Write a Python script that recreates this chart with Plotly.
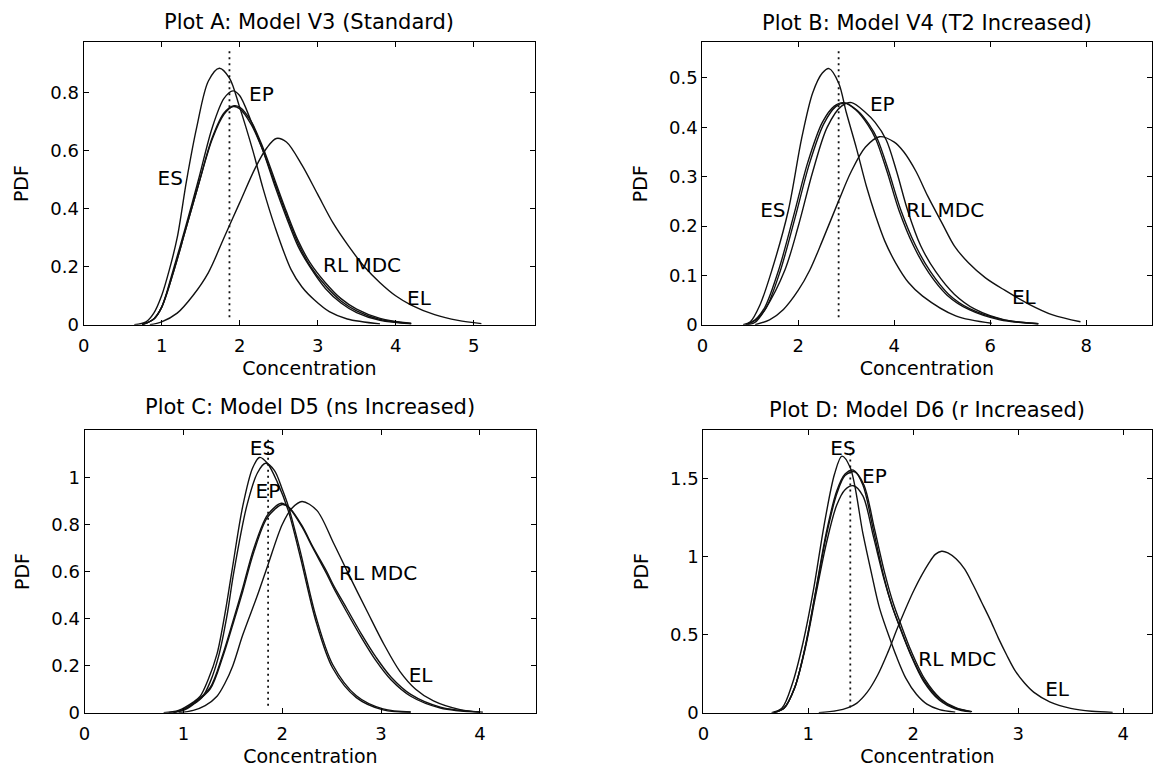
import plotly.graph_objects as go

W, H = 1153, 776

# ---------------- data ----------------
# Plot A: Model V3 (Standard)
A_ES_x = [0.65, 0.8, 0.9, 1.0, 1.1, 1.2, 1.32, 1.45, 1.6, 1.74, 1.87, 2.0, 2.17, 2.3, 2.45, 2.66, 2.8, 2.96, 3.15, 3.38, 3.8]
A_ES_y = [0.0, 0.01, 0.04, 0.1, 0.19, 0.3, 0.497, 0.68, 0.84, 0.884, 0.85, 0.75, 0.6, 0.47, 0.34, 0.19, 0.13, 0.085, 0.045, 0.02, 0.003]
A_EP_x = [0.75, 0.9, 1.0, 1.15, 1.3, 1.47, 1.65, 1.8, 1.915, 2.0, 2.15, 2.3, 2.45, 2.6, 2.75, 2.9, 3.1, 3.3, 3.5, 3.8, 4.2]
A_EP_y = [0.0, 0.02, 0.06, 0.19, 0.33, 0.497, 0.68, 0.78, 0.806, 0.79, 0.7, 0.6, 0.48, 0.37, 0.27, 0.2, 0.125, 0.075, 0.042, 0.015, 0.003]
A_RL_x = [0.75, 0.9, 1.0, 1.15, 1.3, 1.47, 1.65, 1.8, 1.915, 2.0, 2.15, 2.3, 2.45, 2.6, 2.75, 2.9, 3.1, 3.3, 3.5, 3.8, 4.2]
A_RL_y = [0.0, 0.02, 0.06, 0.18, 0.32, 0.48, 0.64, 0.725, 0.752, 0.745, 0.69, 0.6, 0.49, 0.38, 0.28, 0.205, 0.135, 0.082, 0.048, 0.018, 0.004]
A_MDC_x = [0.75, 0.9, 1.0, 1.15, 1.3, 1.47, 1.65, 1.8, 1.93, 2.0, 2.15, 2.3, 2.45, 2.6, 2.75, 2.9, 3.1, 3.3, 3.5, 3.8, 4.2]
A_MDC_y = [0.0, 0.02, 0.06, 0.18, 0.32, 0.48, 0.645, 0.73, 0.755, 0.75, 0.7, 0.61, 0.5, 0.39, 0.29, 0.215, 0.145, 0.09, 0.054, 0.022, 0.005]
A_EL_x = [0.85, 1.0, 1.2, 1.4, 1.6, 1.8, 2.0, 2.2, 2.35, 2.47, 2.6, 2.8, 3.0, 3.2, 3.4, 3.6, 3.8, 4.0, 4.2, 4.5, 4.8, 5.1]
A_EL_y = [0.0, 0.01, 0.04, 0.1, 0.18, 0.3, 0.42, 0.54, 0.61, 0.642, 0.63, 0.55, 0.45, 0.35, 0.27, 0.2, 0.145, 0.1, 0.068, 0.035, 0.015, 0.004]
A_REF_X = 1.87
A_REF_Y = [0.026, 0.95]
A_LABEL_X = [1.11, 2.28, 3.57, 4.30]
A_LABEL_Y = [0.50, 0.79, 0.20, 0.085]

# Plot B: Model V4 (T2 Increased)
B_ES_x = [0.85, 1.0, 1.2, 1.45, 1.79, 2.07, 2.3, 2.5, 2.64, 2.84, 3.0, 3.21, 3.42, 3.62, 3.8, 4.03, 4.3, 4.59, 5.28, 6.03]
B_ES_y = [0.0, 0.006, 0.04, 0.111, 0.231, 0.378, 0.47, 0.51, 0.519, 0.49, 0.43, 0.358, 0.28, 0.218, 0.17, 0.125, 0.085, 0.058, 0.018, 0.003]
B_EP_x = [0.95, 1.1, 1.3, 1.72, 2.0, 2.3, 2.6, 2.9, 3.11, 3.4, 3.6, 3.83, 4.05, 4.28, 4.55, 4.86, 5.25, 5.69, 6.3, 7.0]
B_EP_y = [0.0, 0.005, 0.03, 0.111, 0.2, 0.31, 0.4, 0.443, 0.45, 0.43, 0.41, 0.375, 0.31, 0.231, 0.16, 0.108, 0.062, 0.031, 0.01, 0.002]
B_RL_x = [0.9, 1.1, 1.3, 1.59, 1.9, 2.2, 2.5, 2.75, 2.94, 3.2, 3.45, 3.62, 3.85, 4.1, 4.4, 4.72, 5.1, 5.55, 6.2, 7.0]
B_RL_y = [0.0, 0.01, 0.035, 0.111, 0.22, 0.33, 0.41, 0.443, 0.45, 0.435, 0.405, 0.375, 0.31, 0.231, 0.16, 0.105, 0.06, 0.031, 0.01, 0.002]
B_MDC_x = [0.92, 1.12, 1.33, 1.62, 1.93, 2.23, 2.53, 2.78, 2.97, 3.23, 3.48, 3.65, 3.88, 4.13, 4.43, 4.75, 5.13, 5.58, 6.23, 7.0]
B_MDC_y = [0.0, 0.01, 0.034, 0.108, 0.216, 0.326, 0.407, 0.442, 0.449, 0.434, 0.405, 0.376, 0.312, 0.234, 0.163, 0.108, 0.062, 0.032, 0.011, 0.002]
B_EL_x = [1.1, 1.4, 1.69, 2.0, 2.24, 2.5, 2.84, 3.1, 3.4, 3.69, 4.0, 4.2, 4.45, 4.7, 5.0, 5.25, 5.55, 5.9, 6.3, 6.8, 7.3, 7.88]
B_EL_y = [0.0, 0.01, 0.031, 0.07, 0.111, 0.17, 0.251, 0.31, 0.36, 0.381, 0.37, 0.35, 0.311, 0.26, 0.205, 0.16, 0.125, 0.095, 0.07, 0.042, 0.02, 0.006]
B_REF_X = 2.84
B_REF_Y = [0.015, 0.558]
B_LABEL_X = [1.47, 3.75, 5.06, 6.70]
B_LABEL_Y = [0.228, 0.443, 0.228, 0.052]

# Plot C: Model D5 (ns Increased)
C_ES_x = [0.8, 0.95, 1.1, 1.17, 1.25, 1.34, 1.42, 1.49, 1.6, 1.7, 1.77, 1.85, 1.95, 2.06, 2.18, 2.34, 2.51, 2.75, 3.02, 3.3]
C_ES_y = [0.0, 0.01, 0.045, 0.07, 0.14, 0.25, 0.42, 0.6, 0.877, 1.04, 1.085, 1.06, 0.98, 0.86, 0.667, 0.39, 0.19, 0.064, 0.012, 0.002]
C_EP_x = [0.85, 1.0, 1.1, 1.19, 1.27, 1.36, 1.44, 1.51, 1.64, 1.75, 1.83, 1.92, 2.0, 2.06, 2.18, 2.34, 2.51, 2.75, 3.02, 3.3]
C_EP_y = [0.0, 0.01, 0.035, 0.065, 0.13, 0.246, 0.41, 0.597, 0.877, 1.02, 1.06, 1.03, 0.95, 0.88, 0.69, 0.41, 0.205, 0.072, 0.016, 0.003]
C_RL_x = [0.9, 1.0, 1.1, 1.27, 1.4, 1.5, 1.6, 1.71, 1.85, 1.99, 2.06, 2.2, 2.31, 2.45, 2.52, 2.65, 2.8, 2.95, 3.1, 3.3, 3.6, 4.0]
C_RL_y = [0.0, 0.014, 0.04, 0.106, 0.25, 0.387, 0.53, 0.695, 0.84, 0.89, 0.875, 0.79, 0.7, 0.59, 0.53, 0.43, 0.32, 0.22, 0.14, 0.07, 0.02, 0.002]
C_MDC_x = [0.9, 1.0, 1.1, 1.27, 1.4, 1.5, 1.6, 1.71, 1.85, 2.0, 2.07, 2.2, 2.31, 2.45, 2.52, 2.65, 2.8, 2.95, 3.1, 3.3, 3.6, 4.0]
C_MDC_y = [0.0, 0.013, 0.038, 0.1, 0.24, 0.375, 0.515, 0.68, 0.83, 0.885, 0.872, 0.795, 0.705, 0.6, 0.54, 0.445, 0.335, 0.235, 0.152, 0.078, 0.024, 0.003]
C_EL_x = [0.95, 1.1, 1.22, 1.34, 1.42, 1.5, 1.6, 1.75, 1.857, 2.0, 2.1, 2.2, 2.35, 2.52, 2.67, 2.86, 3.03, 3.19, 3.35, 3.53, 3.8, 4.03]
C_EL_y = [0.0, 0.01, 0.03, 0.07, 0.125, 0.2, 0.33, 0.5, 0.63, 0.8, 0.87, 0.898, 0.86, 0.72, 0.59, 0.43, 0.29, 0.176, 0.1, 0.05, 0.013, 0.002]
C_REF_X = 1.857
C_REF_Y = [0.03, 1.17]
C_LABEL_X = [1.80, 1.855, 2.97, 3.40]
C_LABEL_Y = [1.115, 0.935, 0.585, 0.15]

# Plot D: Model D6 (r Increased)
D_ES_x = [0.65, 0.75, 0.85, 0.95, 1.05, 1.15, 1.25, 1.32, 1.4, 1.52, 1.6, 1.68, 1.79, 1.84, 1.93, 2.03, 2.13, 2.25, 2.4]
D_ES_y = [0.0, 0.03, 0.19, 0.45, 0.79, 1.2, 1.53, 1.645, 1.57, 1.15, 0.9, 0.667, 0.45, 0.36, 0.22, 0.118, 0.055, 0.02, 0.004]
D_EP_x = [0.67, 0.77, 0.87, 0.97, 1.07, 1.17, 1.27, 1.35, 1.43, 1.52, 1.62, 1.72, 1.8, 1.87, 1.97, 2.1, 2.25, 2.4, 2.55]
D_EP_y = [0.0, 0.03, 0.16, 0.42, 0.78, 1.15, 1.42, 1.53, 1.555, 1.46, 1.17, 0.87, 0.68, 0.55, 0.38, 0.2, 0.08, 0.025, 0.005]
D_RL_x = [0.67, 0.77, 0.87, 0.97, 1.07, 1.17, 1.27, 1.35, 1.43, 1.52, 1.62, 1.72, 1.8, 1.87, 1.97, 2.1, 2.25, 2.4, 2.55]
D_RL_y = [0.0, 0.03, 0.16, 0.41, 0.75, 1.08, 1.33, 1.43, 1.455, 1.39, 1.13, 0.86, 0.68, 0.555, 0.385, 0.21, 0.088, 0.03, 0.007]
D_MDC_x = [0.67, 0.77, 0.87, 0.97, 1.07, 1.17, 1.27, 1.35, 1.44, 1.53, 1.63, 1.73, 1.81, 1.88, 1.98, 2.11, 2.26, 2.41, 2.56]
D_MDC_y = [0.0, 0.03, 0.16, 0.42, 0.77, 1.13, 1.4, 1.52, 1.545, 1.46, 1.18, 0.89, 0.7, 0.57, 0.395, 0.215, 0.09, 0.03, 0.007]
D_EL_x = [1.1, 1.27, 1.38, 1.46, 1.56, 1.66, 1.76, 1.86, 2.01, 2.15, 2.21, 2.27, 2.33, 2.41, 2.49, 2.57, 2.65, 2.73, 2.81, 2.89, 2.97, 3.06, 3.15, 3.3, 3.5, 3.7, 3.9]
D_EL_y = [0.0, 0.013, 0.033, 0.06, 0.13, 0.24, 0.39, 0.56, 0.79, 0.96, 1.015, 1.035, 1.025, 0.985, 0.92, 0.82, 0.71, 0.6, 0.48, 0.37, 0.27, 0.19, 0.13, 0.07, 0.028, 0.009, 0.002]
D_REF_X = 1.40
D_REF_Y = [0.034, 1.764]
D_LABEL_X = [1.33, 1.63, 2.42, 3.37]
D_LABEL_Y = [1.687, 1.503, 0.33, 0.14]

LABEL_TEXT = ["ES", "EP", "RL MDC", "EL"]
TITLES = ["Plot A: Model V3 (Standard)", "Plot B: Model V4 (T2 Increased)",
          "Plot C: Model D5 (ns Increased)", "Plot D: Model D6 (r Increased)"]
X_RANGES = [[0, 5.79], [0, 9.36], [0, 4.57], [0, 4.27]]
Y_RANGES = [[0, 0.973], [0, 0.572], [0, 1.2], [0, 1.81]]
X_TICKS = [[0, 1, 2, 3, 4, 5], [0, 2, 4, 6, 8], [0, 1, 2, 3, 4], [0, 1, 2, 3, 4]]
Y_TICKS = [[0, 0.2, 0.4, 0.6, 0.8], [0, 0.1, 0.2, 0.3, 0.4, 0.5],
           [0, 0.2, 0.4, 0.6, 0.8, 1], [0, 0.5, 1, 1.5]]
Y_TICKTEXT = [["0", "0.2", "0.4", "0.6", "0.8"], ["0", "0.1", "0.2", "0.3", "0.4", "0.5"],
              ["0", "0.2", "0.4", "0.6", "0.8", "1"], ["0", "0.5", "1", "1.5"]]

panels = [
    dict(curves=[(A_ES_x, A_ES_y), (A_EP_x, A_EP_y), (A_RL_x, A_RL_y), (A_MDC_x, A_MDC_y), (A_EL_x, A_EL_y)],
         ref_x=A_REF_X, ref_y=A_REF_Y, lx=A_LABEL_X, ly=A_LABEL_Y),
    dict(curves=[(B_ES_x, B_ES_y), (B_EP_x, B_EP_y), (B_RL_x, B_RL_y), (B_MDC_x, B_MDC_y), (B_EL_x, B_EL_y)],
         ref_x=B_REF_X, ref_y=B_REF_Y, lx=B_LABEL_X, ly=B_LABEL_Y),
    dict(curves=[(C_ES_x, C_ES_y), (C_EP_x, C_EP_y), (C_RL_x, C_RL_y), (C_MDC_x, C_MDC_y), (C_EL_x, C_EL_y)],
         ref_x=C_REF_X, ref_y=C_REF_Y, lx=C_LABEL_X, ly=C_LABEL_Y),
    dict(curves=[(D_ES_x, D_ES_y), (D_EP_x, D_EP_y), (D_RL_x, D_RL_y), (D_MDC_x, D_MDC_y), (D_EL_x, D_EL_y)],
         ref_x=D_REF_X, ref_y=D_REF_Y, lx=D_LABEL_X, ly=D_LABEL_Y),
]

# ---------------- layout geometry (pixels of the page) ----------------
# left, right, top, bottom pixel of each axes box
BOXES = [(78, 532, 43, 329), (700, 1151.5, 43, 329), (79, 533, 436, 722), (701, 1151.5, 436, 722)]
TITLE_PY = [22, 23, 412, 415]

FONT = "DejaVu Sans"
fig = go.Figure()
layout = dict(
    width=W, height=H, margin=dict(l=0, r=0, t=0, b=0),
    paper_bgcolor="white", plot_bgcolor="white", showlegend=False,
    font=dict(family=FONT, color="black", size=18),
    annotations=[],
)

for i, p in enumerate(panels):
    sfx = "" if i == 0 else str(i + 1)
    xa, ya = "x" + sfx, "y" + sfx
    for cx, cy in p["curves"]:
        fig.add_trace(go.Scatter(x=cx, y=cy, mode="lines", xaxis=xa, yaxis=ya,
                                 line=dict(color="#111111", width=1.4, shape="spline", smoothing=0.9),
                                 hoverinfo="skip"))
    fig.add_trace(go.Scatter(x=[p["ref_x"], p["ref_x"]], y=p["ref_y"], mode="lines", xaxis=xa, yaxis=ya,
                             line=dict(color="#111111", width=1.8, dash="2px,4px"), hoverinfo="skip"))
    fig.add_trace(go.Scatter(x=p["lx"], y=p["ly"], mode="text", text=LABEL_TEXT, xaxis=xa, yaxis=ya,
                             textposition="middle center", textfont=dict(family=FONT, size=20, color="black"),
                             hoverinfo="skip", cliponaxis=False))

    l, r, t, b = BOXES[i]
    axis_common = dict(showline=True, linecolor="black", linewidth=1, mirror="ticks",
                       ticks="inside", ticklen=5, tickwidth=1, tickcolor="black",
                       showgrid=False, zeroline=False, tickfont=dict(family=FONT, size=18, color="black"))
    layout["xaxis" + sfx] = dict(domain=[l / W, r / W], anchor=ya, range=X_RANGES[i],
                                 tickmode="array", tickvals=X_TICKS[i],
                                 ticktext=[str(v) for v in X_TICKS[i]], ticklabelstandoff=5,
                                 title=dict(text="Concentration", font=dict(family=FONT, size=19), standoff=6),
                                 **axis_common)
    layout["yaxis" + sfx] = dict(domain=[1 - b / H, 1 - t / H], anchor=xa, range=Y_RANGES[i],
                                 tickmode="array", tickvals=Y_TICKS[i], ticktext=Y_TICKTEXT[i],
                                 title=dict(text="PDF", font=dict(family=FONT, size=19), standoff=16),
                                 **axis_common)
    layout["annotations"].append(dict(text=TITLES[i], xref="paper", yref="paper",
                                      x=(l + r) / 2 / W, y=1 - TITLE_PY[i] / H,
                                      xanchor="center", yanchor="middle", showarrow=False,
                                      font=dict(family=FONT, size=21, color="black")))

fig.update_layout(**layout)
fig.write_html("out.html")
